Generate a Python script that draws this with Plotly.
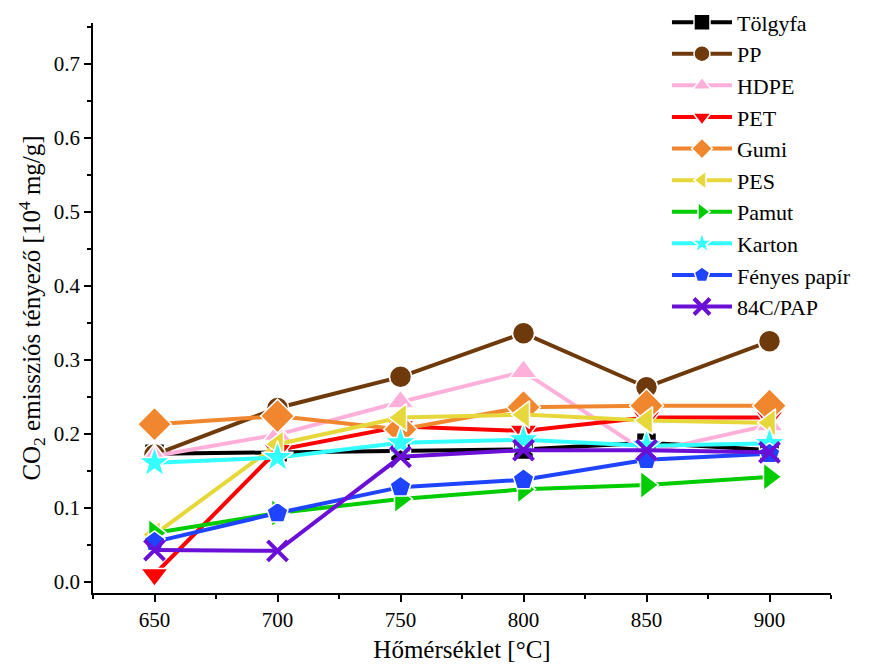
import plotly.graph_objects as go

temps = [650, 700, 750, 800, 850, 900]

tolgyfa = [0.173, 0.175, 0.177, 0.179, 0.188, 0.178]
pp = [0.172, 0.235, 0.277, 0.336, 0.263, 0.325]
hdpe = [0.170, 0.199, 0.243, 0.284, 0.175, 0.212]
pet = [0.010, 0.178, 0.210, 0.204, 0.222, 0.222]
gumi = [0.213, 0.224, 0.206, 0.236, 0.238, 0.238]
pes = [0.064, 0.186, 0.222, 0.226, 0.218, 0.215]
pamut = [0.066, 0.093, 0.112, 0.125, 0.131, 0.142]
karton = [0.161, 0.168, 0.188, 0.192, 0.184, 0.187]
fenyes = [0.054, 0.093, 0.128, 0.138, 0.165, 0.173]
pap84c = [0.043, 0.042, 0.169, 0.178, 0.178, 0.175]

series = [
    ("Tölgyfa", tolgyfa, "#000000", "square", 20),
    ("PP", pp, "#6e3a0c", "circle", 22),
    ("HDPE", hdpe, "#ffb0da", "triangle-up", 24),
    ("PET", pet, "#ff0000", "triangle-down", 24),
    ("Gumi", gumi, "#f0872e", "diamond", 26),
    ("PES", pes, "#e6d83a", "triangle-left", 24),
    ("Pamut", pamut, "#00cc00", "triangle-right", 24),
    ("Karton", karton, "#33ffff", "star", 24),
    ("Fényes papír", fenyes, "#1f44ff", "pentagon", 22),
    ("84C/PAP", pap84c, "#6a0fd6", "x-thin", 20),
]

fig = go.Figure()
for name, vals, color, symbol, size in series:
    marker = dict(symbol=symbol, size=size, color=color,
                  line=dict(color="white", width=1.5))
    if symbol == "x-thin":
        marker = dict(symbol=symbol, size=size, color=color,
                      line=dict(color=color, width=4))
    fig.add_trace(go.Scatter(
        x=temps, y=vals, name=name, mode="lines+markers",
        line=dict(color=color, width=4),
        marker=marker,
    ))

font_family = "Liberation Serif"

fig.update_layout(
    width=873, height=668,
    margin=dict(l=93, r=42, t=23, b=75, autoexpand=False),
    paper_bgcolor="white", plot_bgcolor="white",
    font=dict(family=font_family, color="black", size=21),
    showlegend=True,
    legend=dict(
        xref="container", yref="container",
        x=0.764, y=0.998, xanchor="left", yanchor="top",
        font=dict(family=font_family, size=22, color="black"),
        bgcolor="rgba(0,0,0,0)", tracegroupgap=0, itemwidth=60,
        maxheight=1,
    ),
)

fig.update_xaxes(
    range=[625, 925], showgrid=False, zeroline=False,
    showline=True, linecolor="black", linewidth=1.5,
    ticks="outside", ticklen=7, tickwidth=1.5, tickcolor="black",
    tickvals=temps, ticktext=[str(t) for t in temps],
    minor=dict(ticks="outside", ticklen=4, tickwidth=1.5, tickcolor="black",
               tickvals=[625, 675, 725, 775, 825, 875, 925]),
    tickfont=dict(family=font_family, size=21),
    title=dict(text="Hőmérséklet [°C]", font=dict(family=font_family, size=25), standoff=10),
)

fig.update_yaxes(
    range=[-0.015, 0.755], showgrid=False, zeroline=False,
    showline=True, linecolor="black", linewidth=1.5,
    ticks="outside", ticklen=7, tickwidth=1.5, tickcolor="black",
    tickvals=[0.0, 0.1, 0.2, 0.3, 0.4, 0.5, 0.6, 0.7],
    ticktext=["0.0", "0.1", "0.2", "0.3", "0.4", "0.5", "0.6", "0.7"],
    minor=dict(ticks="outside", ticklen=4, tickwidth=1.5, tickcolor="black",
               tickvals=[0.05, 0.15, 0.25, 0.35, 0.45, 0.55, 0.65, 0.75]),
    tickfont=dict(family=font_family, size=21),
    title=dict(text="CO<sub>2</sub> emissziós tényező [10<sup>4</sup> mg/g]",
               font=dict(family=font_family, size=25), standoff=6),
)

fig.write_html("out.html")
